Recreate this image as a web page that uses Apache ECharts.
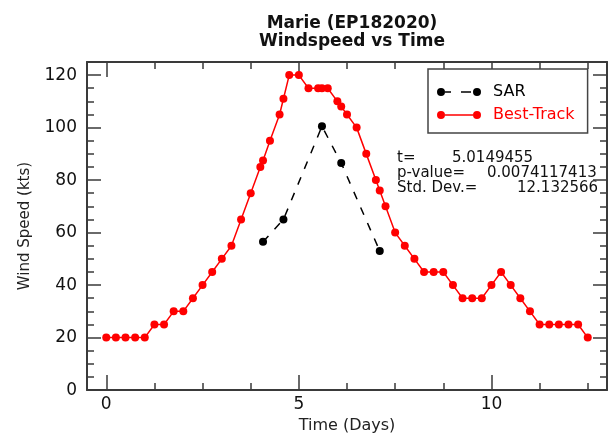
<!DOCTYPE html>
<html>
<head>
<meta charset="utf-8">
<script src="https://cdn.jsdelivr.net/npm/echarts@6/dist/echarts.min.js"></script>
<style>
html,body{margin:0;padding:0;background:#fff;}
#chart{width:609px;height:439px;}
</style>
</head>
<body>
<div id="chart"></div>
<script>
// ---- data ----
var titleLines = ['Marie (EP182020)', 'Windspeed vs Time'];
var xName = 'Time (Days)';
var yName = 'Wind Speed (kts)';

var btTime = [0, 0.25, 0.5, 0.75, 1.0, 1.25, 1.5, 1.75, 2.0, 2.25, 2.5, 2.75, 3.0, 3.25, 3.5, 3.75, 4.0, 4.07, 4.25, 4.5, 4.6, 4.75, 5.0, 5.25, 5.5, 5.6, 5.75, 6.0, 6.1, 6.25, 6.5, 6.75, 7.0, 7.1, 7.25, 7.5, 7.75, 8.0, 8.25, 8.5, 8.75, 9.0, 9.25, 9.5, 9.75, 10.0, 10.25, 10.5, 10.75, 11.0, 11.25, 11.5, 11.75, 12.0, 12.25, 12.5];
var btSpeed = [20, 20, 20, 20, 20, 25, 25, 30, 30, 35, 40, 45, 50, 55, 65, 75, 85, 87.5, 95, 105, 111, 120, 120, 115, 115, 115, 115, 110, 108, 105, 100, 90, 80, 76, 70, 60, 55, 50, 45, 45, 45, 40, 35, 35, 35, 40, 45, 40, 35, 30, 25, 25, 25, 25, 25, 20];

var sarTime = [4.07, 4.6, 5.6, 6.1, 7.1];
var sarSpeed = [56.5, 65, 100.5, 86.5, 53];

var xMajorTicks = [0, 5, 10];
var xMinorTicks = [1.25, 2.5, 3.75, 6.25, 7.5, 8.75, 11.25, 12.5];
var yMajorTicks = [0, 20, 40, 60, 80, 100, 120];
var yMinorTicks = [5, 10, 15, 25, 30, 35, 45, 50, 55, 65, 70, 75, 85, 90, 95, 105, 110, 115];

var statLabels = ['t=', 'p-value=', 'Std. Dev.='];
var statValues = ['5.0149455', '0.0074117413', '12.132566'];

// ---- chart ----
var FONT = 'DejaVu Sans';
var AX = '#3a3a3a';
var chart = echarts.init(document.getElementById('chart'), null, {renderer: 'canvas'});

function pairs(xs, ys) { return xs.map(function (x, i) { return [x, ys[i]]; }); }

var dotPath = function (cx) {
  return 'M' + (cx - 4) + ',4 A4,4 0 1,0 ' + (cx + 4) + ',4 A4,4 0 1,0 ' + (cx - 4) + ',4 Z';
};
var sarIcon = 'path://' + dotPath(4) + ' ' + dotPath(40) +
  ' M8,3.3 L14,3.3 L14,4.7 L8,4.7 Z M24,3.3 L34,3.3 L34,4.7 L24,4.7 Z';
var btIcon = 'path://' + dotPath(4) + ' ' + dotPath(40) + ' M8,3.3 L36,3.3 L36,4.7 L8,4.7 Z';

function xAx(pos, ticks, len, showLine, labels, name) {
  return {
    type: 'value', position: pos, min: -0.5, max: 13,
    axisLine: {show: showLine, onZero: false, lineStyle: {color: AX, width: 2}},
    axisTick: {show: true, inside: true, length: len, customValues: ticks, lineStyle: {color: AX, width: 1.5}},
    axisLabel: labels ? {show: true, customValues: labels, margin: 6, fontSize: 17, color: '#111', fontFamily: FONT} : {show: false},
    splitLine: {show: false},
    name: name || '', nameLocation: 'middle', nameGap: 23,
    nameTextStyle: {fontSize: 16, color: '#222', fontFamily: FONT}
  };
}
function yAx(pos, ticks, len, showLine, labels, name) {
  return {
    type: 'value', position: pos, min: 0, max: 125,
    axisLine: {show: showLine, onZero: false, lineStyle: {color: AX, width: 2}},
    axisTick: {show: true, inside: true, length: len, customValues: ticks, lineStyle: {color: AX, width: 1.5}},
    axisLabel: labels ? {show: true, customValues: labels, margin: 10, fontSize: 17, color: '#111', fontFamily: FONT} : {show: false},
    splitLine: {show: false},
    name: name || '', nameLocation: 'middle', nameGap: 54,
    nameTextStyle: {fontSize: 15, color: '#222', fontFamily: FONT}
  };
}

var statGraphics = [];
var statValueX = [452, 487, 517];
statLabels.forEach(function (s, i) {
  statGraphics.push({type: 'text', left: 397, top: 151 + i * 15,
    style: {text: s, font: '15px "DejaVu Sans"', fill: '#111'}});
  statGraphics.push({type: 'text', left: statValueX[i], top: 151 + i * 15,
    style: {text: statValues[i], font: '15px "DejaVu Sans"', fill: '#111'}});
});

chart.setOption({
  backgroundColor: '#fff',
  animation: false,
  title: {
    text: titleLines.join('\n'), left: 347, top: 10, textAlign: 'center',
    textStyle: {fontSize: 17, fontWeight: 'bold', fontFamily: FONT, color: '#111', lineHeight: 18}
  },
  grid: {left: 87, right: 2, top: 62, bottom: 43, containLabel: false},
  xAxis: [
    xAx('bottom', xMajorTicks, 15, true, xMajorTicks, xName),
    xAx('bottom', xMinorTicks, 7, false, null),
    xAx('top', xMajorTicks, 15, true, null),
    xAx('top', xMinorTicks, 7, false, null)
  ],
  yAxis: [
    yAx('left', yMajorTicks, 14, true, yMajorTicks, yName),
    yAx('left', yMinorTicks, 7, false, null),
    yAx('right', yMajorTicks, 14, true, null),
    yAx('right', yMinorTicks, 7, false, null)
  ],
  legend: {
    orient: 'vertical', left: 428, top: 69,
    padding: [15, 13, 10, 9], itemGap: 7,
    borderColor: '#444', borderWidth: 1.5, backgroundColor: '#fff',
    selectedMode: false, itemWidth: 44, itemHeight: 8,
    textStyle: {fontSize: 16, fontFamily: FONT, padding: [0, 0, 0, 7]},
    data: [
      {name: 'SAR', icon: sarIcon, textStyle: {color: '#000'}},
      {name: 'Best-Track', icon: btIcon, textStyle: {color: '#ff0000'}}
    ]
  },
  graphic: statGraphics,
  series: [
    {
      name: 'Best-Track', type: 'line', xAxisIndex: 0, yAxisIndex: 0,
      data: pairs(btTime, btSpeed), symbol: 'circle', symbolSize: 8,
      itemStyle: {color: '#ff0000'}, lineStyle: {color: '#ff0000', width: 1.5}, z: 3
    },
    {
      name: 'SAR', type: 'line', xAxisIndex: 0, yAxisIndex: 0,
      data: pairs(sarTime, sarSpeed), symbol: 'circle', symbolSize: 8,
      itemStyle: {color: '#000'}, lineStyle: {color: '#000', width: 1.5, type: [8, 9]}, z: 4
    }
  ]
});
</script>
</body>
</html>
